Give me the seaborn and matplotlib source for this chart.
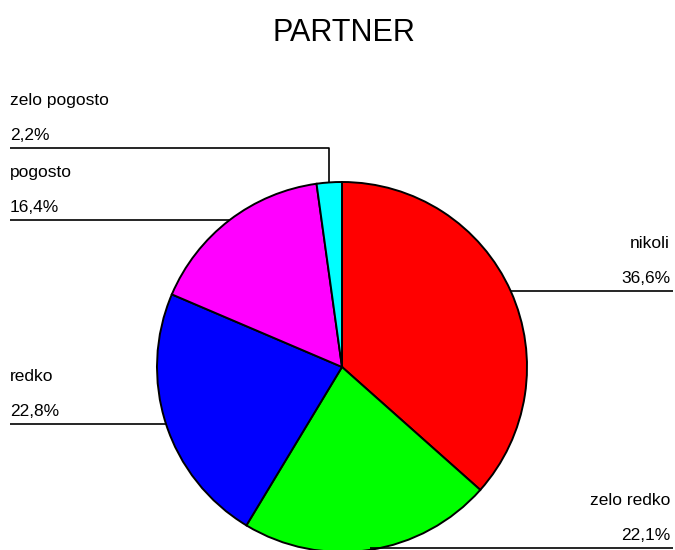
"""Pie chart: PARTNER answer shares with leader-line labels."""

import matplotlib

matplotlib.use("Agg")

import matplotlib.pyplot as plt
import numpy as np
import seaborn as sns


TITLE = "PARTNER"
CATEGORIES = ["nikoli", "zelo redko", "redko", "pogosto", "zelo pogosto"]
SHARES = [36.6, 22.1, 22.8, 16.4, 2.2]
PCT_LABELS = ["36,6%", "22,1%", "22,8%", "16,4%", "2,2%"]
COLORS = ["#ff0000", "#00ff00", "#0000ff", "#ff00ff", "#00ffff"]

# layout in pixel units (y measured upward from bottom of figure)
W, H = 675, 550
CENTER = (342, 183)
RADIUS = 185
LEFT_X, RIGHT_X = 10, 673
ELBOW_Y = {"zelo pogosto": H - 148}


def main() -> None:
    sns.set_theme(style="white")
    plt.rcParams["font.family"] = ["Liberation Sans", "DejaVu Sans"]
    plt.rcParams["text.color"] = "black"

    fig = plt.figure(figsize=(W / 100, H / 100), dpi=100)
    ax = fig.add_axes([0, 0, 1, 1])

    wedges, _ = ax.pie(
        SHARES,
        colors=COLORS,
        startangle=90,
        counterclock=False,
        center=CENTER,
        radius=RADIUS,
        wedgeprops={"edgecolor": "black", "linewidth": 1.4},
    )
    ax.set_xlim(0, W)
    ax.set_ylim(0, H)
    ax.set_aspect("equal")
    ax.axis("off")

    for wedge, name, pct in zip(wedges, CATEGORIES, PCT_LABELS):
        mid = np.deg2rad((wedge.theta1 + wedge.theta2) / 2)
        ax_x = CENTER[0] + RADIUS * np.cos(mid)
        ax_y = max(CENTER[1] + RADIUS * np.sin(mid), 2)
        right = np.cos(mid) > 0
        end_x = RIGHT_X if right else LEFT_X

        line_y = ELBOW_Y.get(name, ax_y)
        if name in ELBOW_Y:
            ax.plot([ax_x, ax_x, end_x], [ax_y, line_y, line_y],
                    color="black", lw=1.2, solid_capstyle="butt")
        else:
            ax.plot([ax_x, end_x], [ax_y, ax_y],
                    color="black", lw=1.2, solid_capstyle="butt")

        tx = RIGHT_X - 3 if right else LEFT_X
        ha = "right" if right else "left"
        ax.text(tx, line_y + 8, pct, ha=ha, va="baseline", fontsize=12.5,
                color="black")
        ax.text(tx, line_y + 43, name, ha=ha, va="baseline", fontsize=12.5,
                color="black")

    ax.text(344, H - 41, TITLE, ha="center", va="baseline", fontsize=22,
            color="black")

    fig.savefig("out.png", dpi=100)
    plt.close(fig)


if __name__ == "__main__":
    main()
